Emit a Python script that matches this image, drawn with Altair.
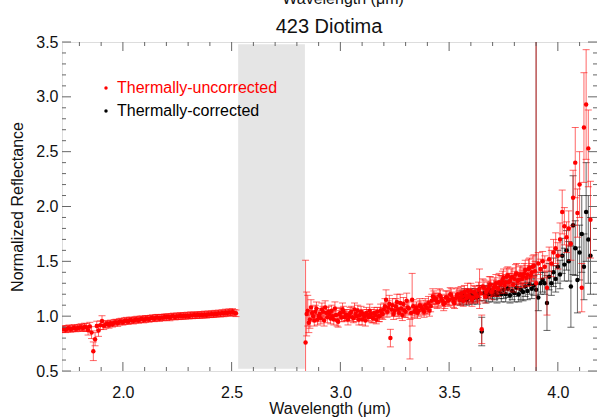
import altair as alt
import pandas as pd

# ---------------- data ----------------
# short-wavelength segment (thermally-uncorrected), regular grid
seg1_start = 1.72
seg1_step = 0.008
seg1_refl = [
    0.880, 0.884, 0.877, 0.885, 0.889, 0.882, 0.888, 0.893, 0.886, 0.892,
    0.895, 0.899, 0.891, 0.902, 0.897, 0.872, 0.905, 0.850, 0.680, 0.790,
    0.910, 0.870, 0.918, 0.955, 0.912, 0.924, 0.930, 0.921, 0.935, 0.929,
    0.940, 0.945, 0.937, 0.949, 0.952, 0.946, 0.956, 0.959, 0.952, 0.962,
    0.963, 0.958, 0.966, 0.969, 0.963, 0.971, 0.974, 0.968, 0.975, 0.978,
    0.974, 0.980, 0.983, 0.977, 0.985, 0.988, 0.982, 0.989, 0.986, 0.992,
    0.990, 0.994, 0.988, 0.996, 0.999, 0.993, 1.000, 0.997, 1.003, 0.998,
    1.004, 1.001, 1.007, 1.002, 1.009, 1.005, 1.010, 1.006, 1.012, 1.008,
    1.013, 1.010, 1.016, 1.011, 1.018, 1.014, 1.021, 1.016, 1.023, 1.019,
    1.026, 1.021, 1.029, 1.024, 1.033, 1.028, 1.036, 1.031, 1.038, 1.030, 1.026,
]
seg1_err = [
    0.028, 0.030, 0.027, 0.029, 0.031, 0.028, 0.029, 0.030, 0.028, 0.029,
    0.030, 0.032, 0.031, 0.034, 0.036, 0.044, 0.039, 0.054, 0.085, 0.060,
    0.044, 0.054, 0.039, 0.049, 0.034, 0.032, 0.031, 0.030, 0.029, 0.028,
    0.029, 0.027, 0.030, 0.028, 0.029, 0.027, 0.029, 0.030, 0.027, 0.029,
    0.027, 0.029, 0.028, 0.030, 0.027, 0.029, 0.028, 0.029, 0.030, 0.027,
    0.029, 0.028, 0.029, 0.027, 0.030, 0.028, 0.029, 0.027, 0.029, 0.028,
    0.029, 0.027, 0.030, 0.028, 0.029, 0.027, 0.029, 0.028, 0.030, 0.027,
    0.029, 0.028, 0.029, 0.027, 0.030, 0.028, 0.029, 0.027, 0.029, 0.028,
    0.029, 0.027, 0.030, 0.028, 0.029, 0.027, 0.029, 0.028, 0.030, 0.027,
    0.029, 0.028, 0.030, 0.029, 0.031, 0.029, 0.030, 0.029, 0.031, 0.030, 0.030,
]

# long-wavelength segment (thermally-uncorrected), regular grid
seg2_start = 2.84
seg2_step = 0.01
seg2_refl = [
    0.76, 1.05, 0.97, 1.03, 0.96, 1.07, 1.00, 0.98, 1.04, 1.08,
    0.99, 1.02, 1.05, 0.97, 1.01, 0.95, 1.03, 1.06, 0.99, 1.01,
    1.00, 1.04, 0.98, 1.02, 1.05, 1.01, 0.97, 1.00, 1.03, 0.99,
    1.02, 0.98, 1.01, 1.04, 1.00, 1.03, 1.06, 1.15, 1.08, 0.80,
    1.10, 1.05, 1.13, 1.03, 1.07, 1.11, 1.04, 1.08, 0.79, 1.15,
    1.04, 1.08, 1.05, 1.09, 1.06, 1.10, 1.07, 1.05, 1.14, 1.17,
    1.16, 1.13, 1.18, 1.14, 1.12, 1.17, 1.15, 1.19, 1.13, 1.16,
    1.20, 1.15, 1.18, 1.22, 1.16, 1.19, 1.23, 1.17, 1.21, 1.18,
    1.25, 0.88, 1.26, 1.22, 1.25, 1.29, 1.24, 1.28, 1.26, 1.31,
    1.30, 1.35, 1.31, 1.37, 1.32, 1.36, 1.34, 1.39, 1.33, 1.38,
    1.36, 1.42, 1.38, 1.44, 1.40, 1.46, 1.30, 1.48, 1.43, 1.50,
    1.45, 1.26, 1.52, 1.48, 1.58, 1.62, 1.55, 1.70, 1.95, 1.82,
    1.72, 1.80, 1.66, 2.08, 2.40, 1.94, 2.20, 1.26, 2.72, 2.93,
    2.53, 1.88,
]
seg2_err = [
    0.75, 0.14, 0.08, 0.06, 0.05, 0.06, 0.05, 0.05, 0.05, 0.06,
    0.05, 0.04, 0.05, 0.05, 0.04, 0.05, 0.05, 0.06, 0.04, 0.05,
    0.04, 0.05, 0.04, 0.05, 0.05, 0.04, 0.05, 0.04, 0.05, 0.04,
    0.04, 0.04, 0.05, 0.04, 0.05, 0.05, 0.06, 0.09, 0.06, 0.08,
    0.06, 0.05, 0.07, 0.05, 0.06, 0.06, 0.05, 0.06, 0.18, 0.24,
    0.05, 0.05, 0.05, 0.05, 0.05, 0.06, 0.05, 0.05, 0.06, 0.06,
    0.05, 0.05, 0.06, 0.05, 0.05, 0.06, 0.05, 0.06, 0.05, 0.05,
    0.06, 0.05, 0.06, 0.06, 0.05, 0.06, 0.07, 0.05, 0.06, 0.06,
    0.18, 0.13, 0.07, 0.06, 0.07, 0.07, 0.06, 0.07, 0.06, 0.08,
    0.07, 0.08, 0.07, 0.08, 0.07, 0.08, 0.07, 0.09, 0.07, 0.08,
    0.08, 0.09, 0.08, 0.09, 0.08, 0.10, 5.00, 0.10, 0.09, 0.09,
    0.10, 0.25, 0.11, 0.12, 0.12, 0.14, 0.12, 0.15, 0.20, 0.17,
    0.14, 0.16, 0.15, 0.25, 0.32, 0.22, 0.30, 0.22, 0.50, 0.50,
    0.35, 0.35,
]

# interleaved channels of the long-wavelength segment (uncorrected)
seg2b_start = 2.845
seg2b_step = 0.01
seg2b_refl = [
    1.02, 0.94, 1.08, 1.00, 1.04, 0.97, 1.02, 1.06, 0.96, 1.03,
    1.04, 0.98, 1.00, 1.07, 0.96, 1.02, 0.99, 1.04, 1.01, 0.97,
    1.03, 0.99, 1.06, 1.00, 0.97, 1.04, 1.02, 0.96, 1.01, 1.05,
    0.99, 1.03, 0.97, 1.00, 1.05, 1.02, 1.09, 1.04, 1.11, 1.06,
    1.02, 1.09, 1.06, 1.12, 1.01, 1.05, 1.14, 1.07, 1.03, 1.09,
    1.06, 1.03, 1.10, 1.07, 1.04, 1.08, 1.12, 1.09, 1.18, 1.15,
    1.13, 1.19, 1.15, 1.11, 1.17, 1.14, 1.20, 1.16, 1.12, 1.19,
    1.17, 1.21, 1.14, 1.19, 1.23, 1.18, 1.15, 1.22, 1.19, 1.24,
    1.21, 1.27, 1.18, 1.24, 1.28, 1.22, 1.26, 1.30, 1.25, 1.29,
    1.33, 1.28, 1.36, 1.31, 1.35, 1.29, 1.38, 1.32, 1.37, 1.34,
    1.39, 1.35, 1.43, 1.37, 1.45, 1.41,
]
seg2b_err = [
    0.20, 0.09, 0.07, 0.05, 0.06, 0.05, 0.05, 0.06, 0.05, 0.05,
    0.05, 0.05, 0.04, 0.06, 0.05, 0.05, 0.04, 0.05, 0.05, 0.05,
    0.05, 0.04, 0.06, 0.05, 0.05, 0.05, 0.04, 0.05, 0.05, 0.06,
    0.05, 0.05, 0.04, 0.05, 0.06, 0.05, 0.07, 0.05, 0.08, 0.06,
    0.05, 0.07, 0.06, 0.08, 0.05, 0.06, 0.07, 0.06, 0.05, 0.06,
    0.05, 0.05, 0.06, 0.05, 0.05, 0.06, 0.06, 0.05, 0.07, 0.06,
    0.06, 0.06, 0.05, 0.06, 0.06, 0.05, 0.06, 0.06, 0.05, 0.06,
    0.06, 0.06, 0.05, 0.06, 0.07, 0.06, 0.06, 0.06, 0.06, 0.07,
    0.07, 0.07, 0.06, 0.07, 0.08, 0.07, 0.07, 0.08, 0.07, 0.08,
    0.08, 0.07, 0.08, 0.08, 0.08, 0.07, 0.09, 0.08, 0.08, 0.08,
    0.09, 0.08, 0.09, 0.09, 0.10, 0.09,
]

# thermally-corrected (only where it departs from the uncorrected one)
corr_start = 3.55
corr_step = 0.01
corr_refl = [
    1.15, 1.17, 1.19, 1.15, 1.17, 1.19, 1.16, 1.19, 1.17, 1.21,
    0.86, 1.21, 1.18, 1.20, 1.23, 1.19, 1.22, 1.19, 1.23, 1.20,
    1.24, 1.20, 1.25, 1.19, 1.23, 1.21, 1.26, 1.20, 1.24, 1.22,
    1.27, 1.23, 1.29, 1.25, 1.28, 1.24, 1.17, 1.30, 1.33, 1.30,
    1.12, 1.36, 1.30, 1.40, 1.34, 1.45, 1.38, 1.55, 1.47, 1.60,
    1.50, 1.27, 1.83, 1.62, 1.33, 1.58, 1.75, 1.45, 1.95, 1.70,
    1.55,
]
corr_err = [
    0.05, 0.06, 0.06, 0.05, 0.06, 0.06, 0.05, 0.06, 0.06, 0.07,
    0.13, 0.07, 0.06, 0.07, 0.07, 0.06, 0.07, 0.07, 0.07, 0.07,
    0.08, 0.07, 0.08, 0.07, 0.08, 0.08, 0.08, 0.07, 0.09, 0.08,
    0.09, 0.08, 0.09, 0.09, 0.09, 5.00, 0.12, 0.10, 0.11, 0.10,
    0.25, 0.12, 0.11, 0.13, 0.12, 0.15, 0.13, 0.16, 0.15, 0.18,
    0.18, 0.37, 0.45, 0.25, 0.30, 0.25, 0.35, 0.30, 0.45, 0.40,
    0.35,
]

# shaded gap region and axis
gap_lam = [2.53, 2.837]
gap_refl = [0.52, 3.48]
x_domain = [1.72, 4.18]
y_domain = [0.5, 3.5]
x_labels = [2.0, 2.5, 3.0, 3.5, 4.0]
y_labels = [0.5, 1.0, 1.5, 2.0, 2.5, 3.0, 3.5]
x_minor = [1.8, 1.9, 2.1, 2.2, 2.3, 2.4, 2.6, 2.7, 2.8, 2.9, 3.1, 3.2, 3.3,
           3.4, 3.6, 3.7, 3.8, 3.9, 4.1]
y_minor = [0.6, 0.7, 0.8, 0.9, 1.1, 1.2, 1.3, 1.4, 1.6, 1.7, 1.8, 1.9,
           2.1, 2.2, 2.3, 2.4, 2.6, 2.7, 2.8, 2.9, 3.1, 3.2, 3.3, 3.4]
legend_labels = ["Thermally-uncorrected", "Thermally-corrected"]
legend_colors = ["#ff0000", "#000000"]


def frame(start, step, vals, errs):
    lam = [round(start + step * i, 4) for i in range(len(vals))]
    df = pd.DataFrame({"lam": lam, "refl": vals, "err": errs})
    df["lo"] = df["refl"] - df["err"]
    df["hi"] = df["refl"] + df["err"]
    return df


red = pd.concat([frame(seg1_start, seg1_step, seg1_refl, seg1_err),
                 frame(seg2_start, seg2_step, seg2_refl, seg2_err),
                 frame(seg2b_start, seg2b_step, seg2b_refl, seg2b_err)],
                ignore_index=True)
black = frame(corr_start, corr_step, corr_refl, corr_err)

W, H = 535, 329
FONT = "Liberation Sans"
xs = alt.Scale(domain=x_domain, nice=False, zero=False)
ys = alt.Scale(domain=y_domain, nice=False, zero=False)

x_axis = alt.Axis(values=x_labels, format=".1f", ticks=False, domain=False,
                  grid=False, labelFont=FONT, labelFontSize=16,
                  labelColor="#111111", labelPadding=13, labelFlush=False,
                  title="Wavelength (\u03bcm)", titleFont=FONT, titleFontSize=16,
                  titleFontWeight="normal", titleColor="#111111", titlePadding=0)
y_axis = alt.Axis(values=y_labels, format=".1f", ticks=False, domain=False,
                  grid=False, labelFont=FONT, labelFontSize=16,
                  labelColor="#111111", labelPadding=4, labelFlush=False,
                  title="Normalized Reflectance", titleFont=FONT, titleFontSize=16,
                  titleFontWeight="normal", titleColor="#111111", titlePadding=10)


def X(field):
    return alt.X(field, scale=xs, axis=x_axis)


def Y(field):
    return alt.Y(field, scale=ys, axis=y_axis)


band = alt.Chart(pd.DataFrame({"x1": [gap_lam[0]], "x2": [gap_lam[1]],
                               "y1": [gap_refl[0]], "y2": [gap_refl[1]]})).mark_rect(
    color="#e5e5e5").encode(x=X("x1:Q"), x2="x2:Q", y=Y("y1:Q"), y2="y2:Q")


def series(df, color, err_opacity):
    base = alt.Chart(df)
    rules = base.mark_rule(color=color, opacity=err_opacity, strokeWidth=1,
                           clip=True).encode(x=X("lam:Q"), y=Y("lo:Q"), y2="hi:Q")
    caps = base.transform_fold(["lo", "hi"], as_=["end", "val"]).mark_tick(
        color=color, opacity=err_opacity, orient="horizontal", size=7,
        thickness=1, clip=True).encode(x=X("lam:Q"), y=Y("val:Q"))
    pts = base.mark_circle(color=color, opacity=1, size=20, clip=True).encode(
        x=X("lam:Q"), y=Y("refl:Q"))
    return [rules, caps, pts]


TC = "#666666"


def xticks(vals, length):
    d = alt.Chart(pd.DataFrame({"v": vals}))
    bot = d.mark_rule(color=TC).encode(x=X("v:Q"),
                                       y=alt.value(H), y2=alt.value(H - length))
    top = d.mark_rule(color=TC).encode(x=X("v:Q"),
                                       y=alt.value(0), y2=alt.value(length))
    return [bot, top]


def yticks(vals, length):
    d = alt.Chart(pd.DataFrame({"v": vals}))
    left = d.mark_rule(color=TC).encode(y=Y("v:Q"),
                                        x=alt.value(0), x2=alt.value(length))
    right = d.mark_rule(color=TC).encode(y=Y("v:Q"),
                                         x=alt.value(W), x2=alt.value(W - length))
    return [left, right]


ticks = (xticks(x_labels, 9) + xticks(x_minor, 4) +
         yticks(y_labels, 9) + yticks(y_minor, 4))

legend_layers = []
for i, (lab, col) in enumerate(zip(legend_labels, legend_colors)):
    d = alt.Chart(pd.DataFrame({"t": [lab]}))
    legend_layers.append(d.mark_circle(color=col, opacity=1, size=12).encode(
        x=alt.value(44), y=alt.value(46 + 23 * i)))
    legend_layers.append(d.mark_text(color=col, font=FONT, fontSize=16,
                                     align="left", baseline="middle").encode(
        x=alt.value(55), y=alt.value(46 + 23 * i), text="t:N"))

title = alt.Chart(pd.DataFrame({"t": ["423 Diotima"]})).mark_text(
    font=FONT, fontSize=20, color="#111111", align="center",
    baseline="alphabetic").encode(x=alt.value(267), y=alt.value(-9), text="t:N")
top_title = alt.Chart(pd.DataFrame({"t": ["Wavelength (\u03bcm)"]})).mark_text(
    font=FONT, fontSize=16, color="#111111", align="center",
    baseline="alphabetic").encode(x=alt.value(281), y=alt.value(-38), text="t:N")

layers = ([band] + series(black, "#000000", 0.6) + series(red, "#ff0000", 0.6)
          + ticks + legend_layers + [title, top_title])

chart = alt.layer(*layers).properties(
    width=W, height=H,
    padding={"left": 62, "top": 42, "right": 0, "bottom": 49},
    autosize=alt.AutoSizeParams(type="none"),
).configure_view(stroke="#555555", strokeWidth=1).configure(font=FONT)

chart.save("out.html", embed_options={"renderer": "svg", "actions": False})
